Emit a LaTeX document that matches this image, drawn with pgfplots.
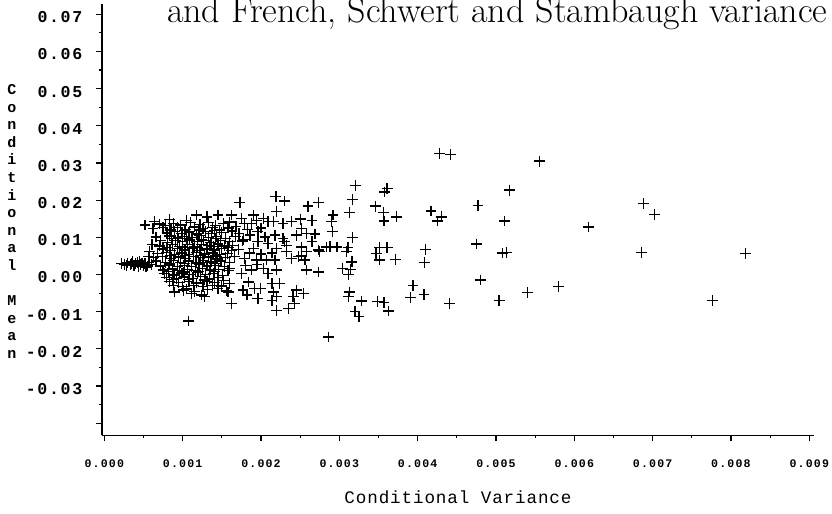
\documentclass[border=0pt]{standalone}
\usepackage{pgfplots}
\pgfplotsset{compat=1.18}
\usepackage{pgfplotstable}
\usepackage{fontspec}
\newfontfamily\tickfont{Liberation Mono}[LetterSpace=10]
\newfontfamily\labfont{Liberation Mono}[LetterSpace=5]

% conditional variance / conditional mean pairs
\pgfplotstableread{
x y
0.00428 0.0326
0.00442 0.0323
0.00556 0.0305
0.00321 0.0240
0.00361 0.0231
0.00358 0.0222
0.00517 0.0227
0.00317 0.0202
0.00477 0.0185
0.00346 0.0184
0.00417 0.0171
0.00356 0.0166
0.00313 0.0166
0.00430 0.0155
0.00373 0.0155
0.00425 0.0144
0.00357 0.0144
0.00511 0.0144
0.00292 0.0160
0.00290 0.0142
0.00291 0.0115
0.00317 0.0099
0.00475 0.0082
0.00288 0.0076
0.00297 0.0074
0.00311 0.0073
0.00309 0.0061
0.00351 0.0072
0.00361 0.0072
0.00347 0.0057
0.00410 0.0068
0.00508 0.0058
0.00513 0.0060
0.00316 0.0034
0.00351 0.0039
0.00372 0.0041
0.00409 0.0033
0.00304 0.0016
0.00314 0.0014
0.00312 0.0001
0.00480 -0.0015
0.00394 -0.0030
0.00580 -0.0032
0.00313 -0.0047
0.00312 -0.0060
0.00408 -0.0053
0.00391 -0.0062
0.00540 -0.0049
0.00328 -0.0071
0.00349 -0.0073
0.00357 -0.0076
0.00504 -0.0069
0.00441 -0.0078
0.00363 -0.0098
0.00320 -0.0100
0.00325 -0.0112
0.00286 -0.0168
0.00688 0.0191
0.00702 0.0162
0.00618 0.0128
0.00686 0.0060
0.00819 0.0057
0.00776 -0.0069
0.00173 0.0194
0.00219 0.0209
0.00230 0.0198
0.00260 0.0184
0.00273 0.0193
0.00220 0.0170
0.00252 0.0124
0.00245 0.0106
0.00258 0.0110
0.00269 0.0109
0.00186 0.0106
0.00196 0.0115
0.00205 0.0101
0.00218 0.0106
0.00228 0.0097
0.00233 0.0079
0.00265 0.0088
0.00252 0.0074
0.00258 0.0061
0.00273 0.0066
0.00284 0.0074
0.00275 0.0061
0.00230 0.0088
0.00233 0.0061
0.00220 0.0070
0.00196 0.0088
0.00209 0.0084
0.00190 0.0070
0.00179 0.0043
0.00194 0.0039
0.00207 0.0039
0.00218 0.0039
0.00239 0.0043
0.00248 0.0048
0.00256 0.0039
0.00252 0.0052
0.00183 0.0121
0.00200 0.0125
0.00178 0.0095
0.00185 0.0058
0.00200 0.0055
0.00214 0.0058
0.00180 0.0025
0.00195 0.0027
0.00160 0.0016
0.00175 0.0003
0.00188 0.0012
0.00203 0.0016
0.00220 0.0012
0.00209 0.0003
0.00258 0.0012
0.00273 0.0007
0.00160 -0.0024
0.00158 -0.0047
0.00184 -0.0020
0.00177 -0.0042
0.00182 -0.0055
0.00192 -0.0037
0.00199 -0.0037
0.00196 -0.0064
0.00214 -0.0024
0.00224 -0.0024
0.00216 -0.0047
0.00220 -0.0060
0.00214 -0.0069
0.00245 -0.0042
0.00254 -0.0051
0.00241 -0.0060
0.00243 -0.0078
0.00235 -0.0091
0.00220 -0.0096
0.00162 -0.0078
0.00107 -0.0125
0.00052 0.0133
0.00064 0.0142
0.00083 0.0148
0.00105 0.0146
0.00118 0.0160
0.00131 0.0155
0.00145 0.0160
0.00162 0.0160
0.00175 0.0151
0.00190 0.0160
0.00203 0.0151
0.00216 0.0142
0.00228 0.0137
0.00239 0.0142
0.00250 0.0149
0.00265 0.0146
0.00179 0.0137
0.00188 0.0137
0.00194 0.0146
0.00209 0.0142
0.00022 0.0030
0.00026 0.0028
0.00030 0.0031
0.00033 0.0026
0.00035 0.0030
0.00038 0.0024
0.00040 0.0029
0.00042 0.0033
0.00044 0.0022
0.00046 0.0027
0.00048 0.0031
0.00050 0.0025
0.00052 0.0029
0.00055 0.0023
0.00057 0.0032
0.00060 0.0027
0.00028 0.0024
0.00036 0.0035
0.00045 0.0036
0.00053 0.0020
0.00058 0.0062
0.00061 0.0080
0.00056 0.0048
0.00070 0.0136
0.00078 0.0131
0.00088 0.0138
0.00097 0.0133
0.00110 0.0139
0.00122 0.0134
0.00133 0.0140
0.00142 0.0132
0.00152 0.0137
0.00160 0.0141
0.00062 0.0124
0.00075 0.0127
0.00085 0.0122
0.00093 0.0126
0.00104 0.0121
0.00115 0.0128
0.00126 0.0123
0.00138 0.0126
0.00147 0.0120
0.00158 0.0125
0.00168 0.0129
0.00080 0.0112
0.00090 0.0116
0.00099 0.0110
0.00108 0.0114
0.00118 0.0109
0.00129 0.0115
0.00137 0.0111
0.00150 0.0113
0.00163 0.0117
0.00172 0.0110
0.00066 0.0101
0.00083 0.0104
0.00094 0.0098
0.00102 0.0103
0.00112 0.0099
0.00121 0.0105
0.00133 0.0100
0.00143 0.0103
0.00155 0.0097
0.00167 0.0102
0.00072 0.0091
0.00081 0.0087
0.00091 0.0092
0.00100 0.0088
0.00109 0.0093
0.00119 0.0089
0.00127 0.0091
0.00136 0.0086
0.00148 0.0092
0.00160 0.0088
0.00176 0.0090
0.00070 0.0077
0.00087 0.0081
0.00096 0.0076
0.00106 0.0080
0.00115 0.0075
0.00124 0.0081
0.00134 0.0078
0.00145 0.0082
0.00153 0.0077
0.00164 0.0079
0.00075 0.0069
0.00084 0.0065
0.00093 0.0070
0.00103 0.0066
0.00113 0.0071
0.00122 0.0064
0.00131 0.0069
0.00140 0.0066
0.00150 0.0070
0.00162 0.0065
0.00171 0.0068
0.00068 0.0056
0.00079 0.0059
0.00090 0.0054
0.00099 0.0058
0.00108 0.0053
0.00118 0.0059
0.00128 0.0055
0.00138 0.0058
0.00147 0.0053
0.00157 0.0057
0.00063 0.0045
0.00074 0.0048
0.00085 0.0043
0.00095 0.0047
0.00104 0.0044
0.00114 0.0049
0.00123 0.0045
0.00133 0.0047
0.00144 0.0042
0.00155 0.0046
0.00166 0.0049
0.00066 0.0036
0.00078 0.0032
0.00088 0.0037
0.00097 0.0033
0.00107 0.0036
0.00117 0.0031
0.00126 0.0037
0.00136 0.0034
0.00149 0.0036
0.00160 0.0032
0.00072 0.0023
0.00083 0.0026
0.00093 0.0021
0.00102 0.0025
0.00111 0.0022
0.00121 0.0027
0.00131 0.0023
0.00142 0.0025
0.00153 0.0021
0.00075 0.0012
0.00087 0.0015
0.00096 0.0010
0.00106 0.0014
0.00116 0.0011
0.00125 0.0016
0.00135 0.0012
0.00146 0.0014
0.00158 0.0010
0.00077 0.0003
0.00089 -0.0001
0.00099 0.0004
0.00109 0.0000
0.00119 0.0005
0.00129 0.0001
0.00139 0.0003
0.00151 -0.0002
0.00079 -0.0008
0.00092 -0.0011
0.00102 -0.0007
0.00113 -0.0010
0.00123 -0.0006
0.00134 -0.0012
0.00145 -0.0008
0.00083 -0.0019
0.00095 -0.0022
0.00108 -0.0018
0.00118 -0.0023
0.00131 -0.0019
0.00141 -0.0021
0.00152 -0.0017
0.00088 -0.0030
0.00100 -0.0033
0.00114 -0.0029
0.00126 -0.0032
0.00138 -0.0030
0.00105 -0.0039
0.00132 -0.0041
0.00145 -0.0038
0.00090 -0.0047
0.00101 -0.0042
0.00111 -0.0051
0.00124 -0.0055
0.00128 -0.0060
0.00115 -0.0046
0.00150 -0.0031
0.00156 -0.0044
0.00084 0.0119
0.00102 0.0118
0.00121 0.0120
0.00141 0.0118
0.00086 0.0096
0.00105 0.0097
0.00124 0.0095
0.00142 0.0097
0.00080 0.0073
0.00100 0.0074
0.00119 0.0072
0.00139 0.0075
0.00158 0.0073
0.00084 0.0052
0.00103 0.0051
0.00123 0.0052
0.00142 0.0050
0.00083 0.0030
0.00102 0.0029
0.00121 0.0031
0.00141 0.0030
0.00082 0.0008
0.00101 0.0007
0.00120 0.0009
0.00141 0.0008
0.00087 -0.0014
0.00107 -0.0013
0.00128 -0.0015
}\meanvar

\begin{document}
\begin{tikzpicture}
\path[use as bounding box] (-51pt,-39.25pt) rectangle (365pt,217.75pt);
\begin{axis}[
  at={(0pt,0pt)}, anchor=south west,
  scale only axis, width=356pt, height=216pt,
  xmin=-0.00003, xmax=0.00906,
  ymin=-0.0433, ymax=0.0729,
  axis x line=bottom, axis y line=left,
  axis line style={-, line width=0.65pt},
  tick style={line width=0.6pt, black},
  tick align=outside,
  major tick length=2.8pt, minor tick length=1.5pt,
  scaled x ticks=false, scaled y ticks=false,
  xtick={0,0.001,0.002,0.003,0.004,0.005,0.006,0.007,0.008,0.009},
  xticklabels={0.000,0.001,0.002,0.003,0.004,0.005,0.006,0.007,0.008,0.009},
  minor xtick={0.0005,0.0015,0.0025,0.0035,0.0045,0.0055,0.0065,0.0075,0.0085},
  ytick={-0.04,-0.03,-0.02,-0.01,0,0.01,0.02,0.03,0.04,0.05,0.06,0.07},
  yticklabels={,-0.03,-0.02,-0.01,0.00,0.01,0.02,0.03,0.04,0.05,0.06,0.07},
  minor ytick={-0.035,-0.025,-0.015,-0.005,0.005,0.015,0.025,0.035,0.045,0.055,0.065},
  xticklabel style={font=\tickfont\bfseries\fontsize{5.8}{6}\selectfont, yshift=-6pt},
  yticklabel style={font=\tickfont\bfseries\fontsize{8.3}{8.3}\selectfont, anchor=east, xshift=-3.5pt, yshift=-1.5pt},
  clip=false,
]
\addplot[only marks, mark=+, mark size=2.7pt, mark options={line width=0.65pt, black}] table {\meanvar};
\end{axis}
\node[anchor=base west, font=\fontsize{18}{20}\selectfont] at (29pt,206.5pt)
  {and French, Schwert and Stambaugh variance};
\node[font=\labfont\fontsize{8.8}{9}\selectfont] at (178pt,-30.75pt) {Conditional Variance};
\node[font=\labfont\bfseries\fontsize{7.5}{8.8}\selectfont, align=center] at (-45pt,107pt)
  {C\\o\\n\\d\\i\\t\\i\\o\\n\\a\\l\\[8.8pt]M\\e\\a\\n};
\end{tikzpicture}
\end{document}
